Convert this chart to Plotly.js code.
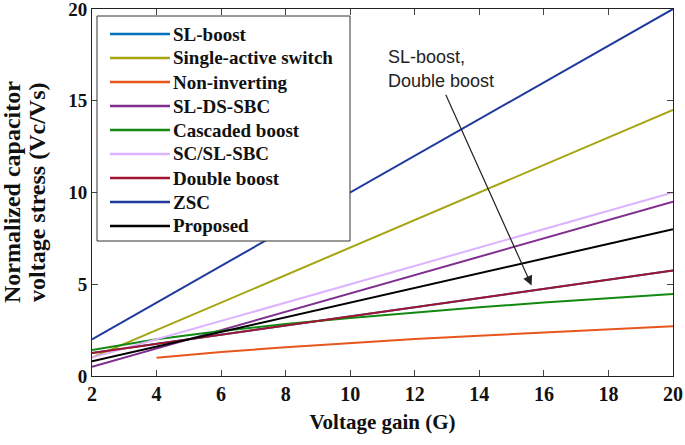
<!DOCTYPE html>
<html>
<head>
<meta charset="utf-8">
<script src="https://cdn.plot.ly/plotly-3.0.1.min.js"></script>
<style>html,body{margin:0;padding:0;background:#fff;}#chart{width:685px;height:445px;}</style>
</head>
<body>
<div id="chart"></div>
<script>
// Voltage gain values
const gain = [2, 4, 6, 8, 10, 12, 14, 16, 18, 20];
const gainNonInv = [4, 6, 8, 10, 12, 14, 16, 18, 20];
const yTicks = [0, 5, 10, 15, 20];

// Normalized capacitor voltage stress
const slBoost      = [1.25, 1.75, 2.25, 2.75, 3.25, 3.75, 4.25, 4.75, 5.25, 5.75];
const singleActive = [1.0, 2.5, 4.0, 5.5, 7.0, 8.5, 10.0, 11.5, 13.0, 14.5];
const nonInverting = [1.0, 1.31, 1.57, 1.80, 2.01, 2.20, 2.38, 2.55, 2.71];
const slDsSbc      = [0.5, 1.5, 2.5, 3.5, 4.5, 5.5, 6.5, 7.5, 8.5, 9.5];
const cascaded     = [1.41, 2.0, 2.45, 2.83, 3.16, 3.46, 3.74, 4.0, 4.24, 4.47];
const scSlSbc      = [1.0, 2.0, 3.0, 4.0, 5.0, 6.0, 7.0, 8.0, 9.0, 10.0];
const doubleBoost  = [1.25, 1.75, 2.25, 2.75, 3.25, 3.75, 4.25, 4.75, 5.25, 5.75];
const zsc          = [2, 4, 6, 8, 10, 12, 14, 16, 18, 20];
const proposed     = [0.8, 1.6, 2.4, 3.2, 4.0, 4.8, 5.6, 6.4, 7.2, 8.0];

const names = ['SL-boost', 'Single-active switch', 'Non-inverting', 'SL-DS-SBC',
               'Cascaded boost', 'SC/SL-SBC', 'Double boost', 'ZSC', 'Proposed'];
const colors = ['#0072BD', '#A5A512', '#E8561E', '#7E2F8E', '#128A12',
                '#DDB3FF', '#A2142F', '#1F3A9E', '#000000'];
const xs = [gain, gain, gainNonInv, gain, gain, gain, gain, gain, gain];
const ys = [slBoost, singleActive, nonInverting, slDsSbc, cascaded, scSlSbc, doubleBoost, zsc, proposed];

const traces = names.map((n, i) => ({
  x: xs[i], y: ys[i], name: n, type: 'scatter', mode: 'lines',
  line: {color: colors[i], width: 2}, showlegend: false
}));

const serif = 'Liberation Serif, Times New Roman, serif';
const sans = 'Liberation Sans, Arial, sans-serif';

// plot-area geometry helpers (pixels -> paper fractions)
const L = 92, R = 673, T = 9, B = 376;
const px = v => (v - L) / (R - L);
const py = v => (B - v) / (B - T);

// legend drawn as a boxed key
const shapes = [{type: 'rect', xref: 'paper', yref: 'paper',
  x0: px(97), x1: px(350), y0: py(241), y1: py(16),
  line: {color: '#333', width: 1}, fillcolor: '#fff', layer: 'above'}];
const annotations = [];
names.forEach((n, i) => {
  const cy = 34 + 24 * i;
  shapes.push({type: 'line', xref: 'paper', yref: 'paper',
    x0: px(110), x1: px(170), y0: py(cy), y1: py(cy),
    line: {color: colors[i], width: 2.5}, layer: 'above'});
  annotations.push({xref: 'paper', yref: 'paper', x: px(171), y: py(cy),
    xanchor: 'left', yanchor: 'middle', showarrow: false, text: n,
    font: {family: serif, size: 19, color: '#111', weight: 'bold'}});
});

// y-axis title (two lines)
annotations.push({xref: 'paper', yref: 'paper', x: px(12), y: py(192), textangle: -90,
  xanchor: 'center', yanchor: 'middle', showarrow: false, text: 'Normalized capacitor',
  font: {family: serif, size: 24, color: '#111', weight: 'bold'}});
annotations.push({xref: 'paper', yref: 'paper', x: px(37), y: py(192), textangle: -90,
  xanchor: 'center', yanchor: 'middle', showarrow: false, text: 'voltage stress (Vc/Vs)',
  font: {family: serif, size: 24, color: '#111', weight: 'bold'}});

// callout
annotations.push({x: 11.1, y: 17.4, xref: 'x', yref: 'y', xanchor: 'left', yanchor: 'middle',
  text: 'SL-boost,', showarrow: false, font: {family: sans, size: 18, color: '#222'}});
annotations.push({x: 11.1, y: 16.05, xref: 'x', yref: 'y', xanchor: 'left', yanchor: 'middle',
  text: 'Double boost', showarrow: false, font: {family: sans, size: 18, color: '#222'}});
annotations.push({x: 15.62, y: 4.93, xref: 'x', yref: 'y', ax: 12.94, ay: 15.41, axref: 'x', ayref: 'y',
  text: '', showarrow: true, arrowhead: 2, arrowsize: 1.6, arrowwidth: 1.2, arrowcolor: '#222'});

const layout = {
  width: 685, height: 445,
  margin: {l: L, r: 685 - R, t: T, b: 445 - B},
  paper_bgcolor: '#fff', plot_bgcolor: '#fff',
  showlegend: false,
  xaxis: {
    range: [2, 20], tickvals: gain, ticks: 'inside', ticklen: 6,
    showline: true, linecolor: '#222', linewidth: 1, mirror: 'ticks',
    showgrid: false, zeroline: false, ticklabeloverflow: 'allow',
    tickfont: {family: serif, size: 20, color: '#111', weight: 'bold'},
    title: {text: 'Voltage gain (G)', standoff: 10,
            font: {family: serif, size: 21, color: '#111', weight: 'bold'}}
  },
  yaxis: {
    range: [0, 20], tickvals: yTicks, ticks: 'inside', ticklen: 6,
    showline: true, linecolor: '#222', linewidth: 1, mirror: 'ticks',
    showgrid: false, zeroline: false, ticklabeloverflow: 'allow',
    tickfont: {family: serif, size: 19, color: '#111', weight: 'bold'}
  },
  shapes: shapes,
  annotations: annotations
};

Plotly.newPlot('chart', traces, layout, {displayModeBar: false, staticPlot: true});
</script>
</body>
</html>
